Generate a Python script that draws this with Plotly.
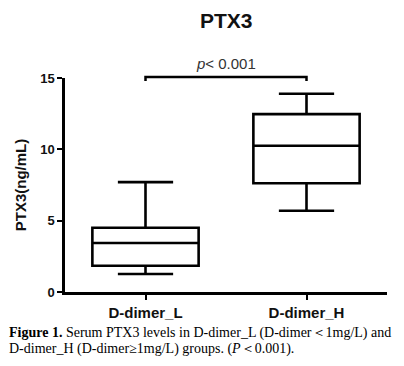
import plotly.graph_objects as go

groups = ["D-dimer_L", "D-dimer_H"]
q1 = [1.84, 7.62]
median = [3.43, 10.25]
q3 = [4.5, 12.47]
lower = [1.26, 5.7]
upper = [7.7, 13.9]
y_ticks = [0, 5, 10, 15]

OFF = 8  # default page body margin
VW, VH = 404, 366
W, H = VW - OFF, VH - OFF
L, R, T, B = 65 - OFF, 17, 78 - OFF, 74
ph = H - T - B
pw = W - L - R

def py(pix):
    # viewport pixel -> paper y
    return (VH - B - pix) / ph

def px(pix):
    return (pix - OFF - L) / pw

fig = go.Figure()
fig.add_trace(go.Box(
    x=groups, q1=q1, median=median, q3=q3,
    lowerfence=lower, upperfence=upper,
    width=0.66, whiskerwidth=0.52,
    line=dict(color="black", width=2.6),
    fillcolor="white", boxpoints=False, hoverinfo="skip", showlegend=False,
))

fig.update_layout(
    width=W, height=H,
    margin=dict(l=L, r=R, t=T, b=B),
    paper_bgcolor="white", plot_bgcolor="white",
    font=dict(family="Arial, Liberation Sans", color="#111"),
    xaxis=dict(
        type="category", range=[-0.5, 1.5],
        showline=True, linecolor="black", linewidth=2.5,
        ticks="outside", ticklen=5, tickwidth=2, tickcolor="black",
        tickfont=dict(size=15, weight="bold", color="#111"),
        showgrid=False, zeroline=False,
    ),
    yaxis=dict(
        range=[0, 15], tickvals=y_ticks,
        showline=True, linecolor="black", linewidth=2.5,
        ticks="outside", ticklen=5, tickwidth=2, tickcolor="black",
        tickfont=dict(size=13, weight="bold", color="#111"),
        showgrid=False, zeroline=False,
        title=dict(text="PTX3(ng/mL)", font=dict(size=15, weight="bold", color="#111"), standoff=10),
    ),
)

# significance bracket
fig.add_shape(type="path", xref="x", yref="paper",
              path=f"M 0,{py(81)} L 0,{py(77)} L 1,{py(77)} L 1,{py(81)}",
              line=dict(color="black", width=2.5))

fig.add_annotation(x=0.5, xref="x", y=py(63), yref="paper", showarrow=False,
                   xanchor="center", yanchor="middle",
                   text="<i>p</i>&lt; 0.001", font=dict(size=15, color="#333"))
fig.add_annotation(x=px(227), xref="paper", y=py(21), yref="paper",
                   xanchor="center", yanchor="middle",
                   showarrow=False, text="<b>PTX3</b>",
                   font=dict(size=21, color="#111"))

cap_font = dict(size=14, family="Liberation Serif, Times New Roman", color="black")
fig.add_annotation(x=px(OFF), xref="paper", xanchor="left", y=py(333), yref="paper",
                   yanchor="middle", showarrow=False, align="left", borderpad=0,
                   text="<b>Figure 1.</b> Serum PTX3 levels in D-dimer_L (D-dimer＜1mg/L) and",
                   font=cap_font)
fig.add_annotation(x=px(OFF), xref="paper", xanchor="left", y=py(349), yref="paper",
                   yanchor="middle", showarrow=False, align="left", borderpad=0,
                   text="D-dimer_H (D-dimer≥1mg/L) groups. (<i>P</i>＜0.001).",
                   font=cap_font)

fig.write_html("out.html")
